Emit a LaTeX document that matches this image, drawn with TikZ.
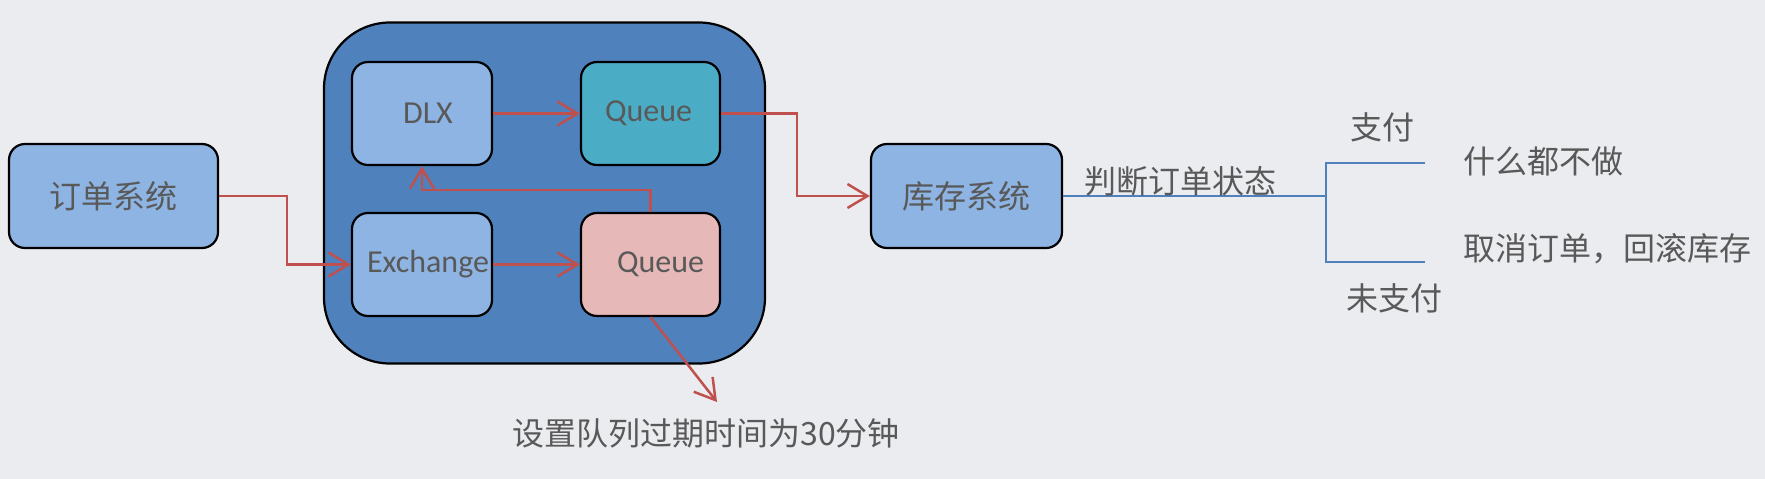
\documentclass[tikz,border=0pt]{standalone}
\usepackage{fontspec}
\setmainfont{Carlito}
\newfontfamily\cjk{Noto Sans CJK SC}
\usetikzlibrary{arrows.meta}
\definecolor{bg}{HTML}{EBECF0}
\definecolor{outerblue}{HTML}{4F81BD}
\definecolor{lightblue}{HTML}{8EB4E3}
\definecolor{tealq}{HTML}{4BACC6}
\definecolor{pinkq}{HTML}{E6B9B8}
\definecolor{redline}{HTML}{C0504D}
\definecolor{txt}{HTML}{595959}
\tikzset{
  box/.style={draw=black, line width=2.2pt, rounded corners=16pt, minimum width=140pt, minimum height=103pt, inner sep=0pt, text=txt, font=\fontsize{32pt}{38pt}\selectfont},
  arr/.style={draw=redline, line width=2.5pt, -{Straight Barb[length=20pt,width=24pt,line width=2.5pt]}},
  bline/.style={draw=outerblue, line width=2.2pt},
  lbl/.style={text=txt, inner sep=0pt, font=\fontsize{32pt}{38pt}\selectfont\cjk}
}
\begin{document}
\begin{tikzpicture}[x=1pt,y=-1pt]
\fill[bg] (0,0) rectangle (1765,479);
\useasboundingbox (0,0) rectangle (1765,479);
% outer container
\node[draw=black, line width=2.2pt, fill=outerblue, rounded corners=66pt, minimum width=441pt, minimum height=341pt] (outer) at (544.5,193) {};
% boxes
\node[box, fill=lightblue, minimum width=209pt, minimum height=104pt, font=\fontsize{32pt}{38pt}\selectfont\cjk] (order) at (113.5,196) {订单系统};
\node[box, fill=lightblue] (dlx) at (422,113.5) {\raisebox{-10pt}{\hspace{12pt}DLX}};
\node[box, fill=tealq, minimum width=139pt] (qt) at (650.5,113.5) {\hspace{-4pt}Queue};
\node[box, fill=lightblue] (ex) at (422,264.5) {\raisebox{-3pt}{\hspace{12pt}Exchange}};
\node[box, fill=pinkq, minimum width=139pt] (qp) at (650.5,264.5) {\raisebox{-3pt}{\hspace{20pt}Queue}};
\node[box, fill=lightblue, minimum width=191pt, minimum height=104pt, font=\fontsize{32pt}{38pt}\selectfont\cjk] (stock) at (966.5,196) {库存系统};
% connectors
\coordinate (c1) at (287,196);
\draw[arr] (order.east) -- (c1) |- (ex.west);
\draw[arr] (ex.east) -- (qp.west);
\draw[arr] (dlx.east) -- (qt.west);
\draw[arr] (qp.north) |- ([yshift=-24pt]dlx.south) -- (dlx.south);
\coordinate (c2) at (797,113.5);
\draw[arr] (qt.east) -- (c2) |- (stock.west);
\coordinate (tipq) at (717,402);
\draw[arr] (qp.south) -- (tipq);
\node[lbl] (ttl) at (706,433) {设置队列过期时间为30分钟};
% decision branch
\coordinate (j) at (1326,196);
\coordinate (j1) at (1326,163);
\coordinate (j2) at (1326,262);
\coordinate (a1) at (1425,163);
\coordinate (a2) at (1425,262);
\draw[bline] (stock.east) -- (j);
\draw[bline] (a1) -- (j1) -- (j2) -- (a2);
\node[lbl] (judge) at (1180,181) {判断订单状态};
\node[lbl] (pay) at (1382,127) {支付};
\node[lbl] (nopay) at (1394,298) {未支付};
\node[lbl, anchor=west] (nothing) at (1463,161) {什么都不做};
\node[lbl, anchor=west] (cancel) at (1463,249) {取消订单，回滚库存};
\end{tikzpicture}
\end{document}
